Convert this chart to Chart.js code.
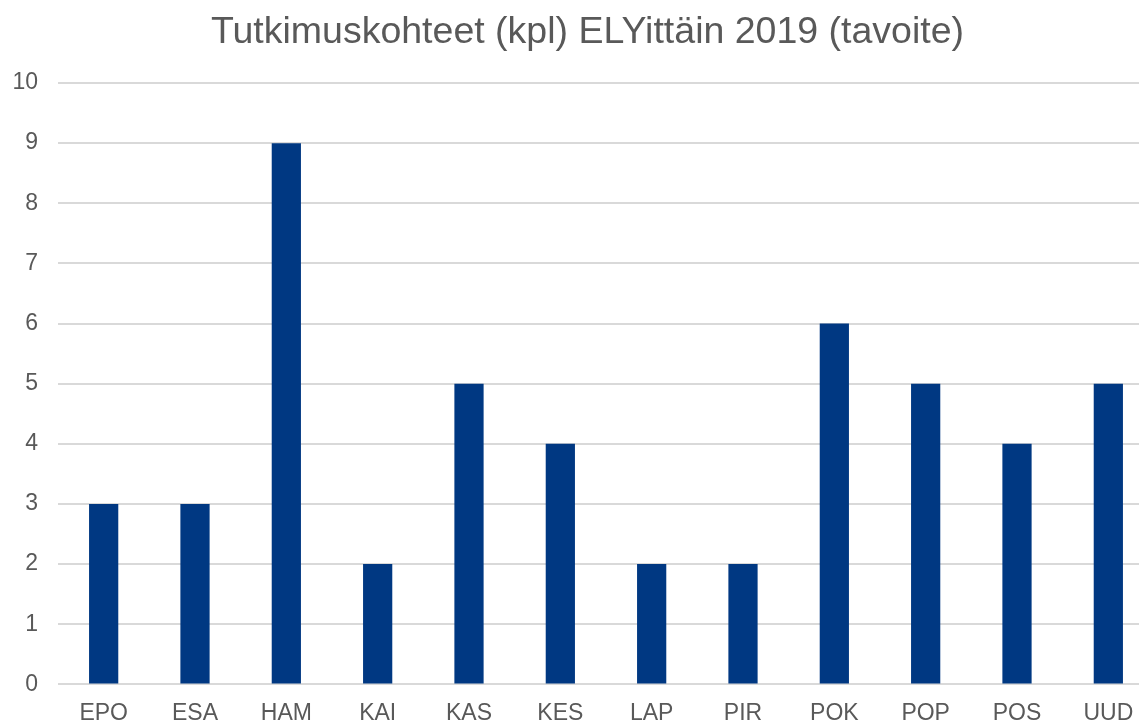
<!DOCTYPE html>
<html>
<head>
<meta charset="utf-8">
<script src="https://cdn.jsdelivr.net/npm/chart.js@4/dist/chart.umd.min.js"></script>
<style>
  html, body { margin: 0; padding: 0; background: #fff; overflow: hidden; }
  #wrap { width: 1175px; height: 742px; }
</style>
</head>
<body>
<div id="wrap"><canvas id="myChart"></canvas></div>
<script>
const labels = ["EPO", "ESA", "HAM", "KAI", "KAS", "KES", "LAP", "PIR", "POK", "POP", "POS", "UUD"];
const kohteet = [3, 3, 9, 2, 5, 4, 2, 2, 6, 5, 4, 5];
const yTicks = [0, 1, 2, 3, 4, 5, 6, 7, 8, 9, 10];

// title sits a bit right of the canvas centre in the original
const shiftTitle = {
    id: "shiftTitle",
    afterLayout(chart) {
        if (chart.titleBlock) chart.titleBlock.left += 21;
    },
};

const ctx = document.getElementById("myChart").getContext("2d");
const myChart = new Chart(ctx, {
    type: "bar",
    data: {
        labels: labels,
        datasets: [
            {
                label: "Tutkimuskohteet",
                data: kohteet,
                backgroundColor: "#003882",
                categoryPercentage: 1,
                barPercentage: 0.32,
            },
        ],
    },
    plugins: [shiftTitle],
    options: {
        responsive: true,
        maintainAspectRatio: false,
        animation: false,
        layout: { padding: { left: 0, right: 21, top: 0, bottom: 0 } },
        plugins: {
            legend: { display: false },
            tooltip: { enabled: false },
            title: {
                display: true,
                text: "Tutkimuskohteet (kpl) ELYittäin 2019 (tavoite)",
                color: "#595959",
                font: { family: "Liberation Sans, Arial", size: 37.5, weight: "normal" },
                padding: { top: 10, bottom: 28 },
            },
        },
        scales: {
            x: {
                grid: { display: false, drawTicks: false },
                border: { display: false },
                ticks: {
                    color: "#595959",
                    font: { family: "Liberation Sans, Arial", size: 23 },
                    padding: 15,
                    maxRotation: 0,
                    autoSkip: false,
                },
            },
            y: {
                min: 0,
                max: 10,
                afterFit: (scale) => { scale.width = 58; },
                afterBuildTicks: (scale) => { scale.ticks = yTicks.map((v) => ({ value: v })); },
                grid: { color: "#d9d9d9", lineWidth: 2, drawTicks: false },
                border: { display: false },
                ticks: {
                    color: "#595959",
                    font: { family: "Liberation Sans, Arial", size: 23 },
                    padding: 20,
                },
            },
        },
    },
});
</script>
</body>
</html>
